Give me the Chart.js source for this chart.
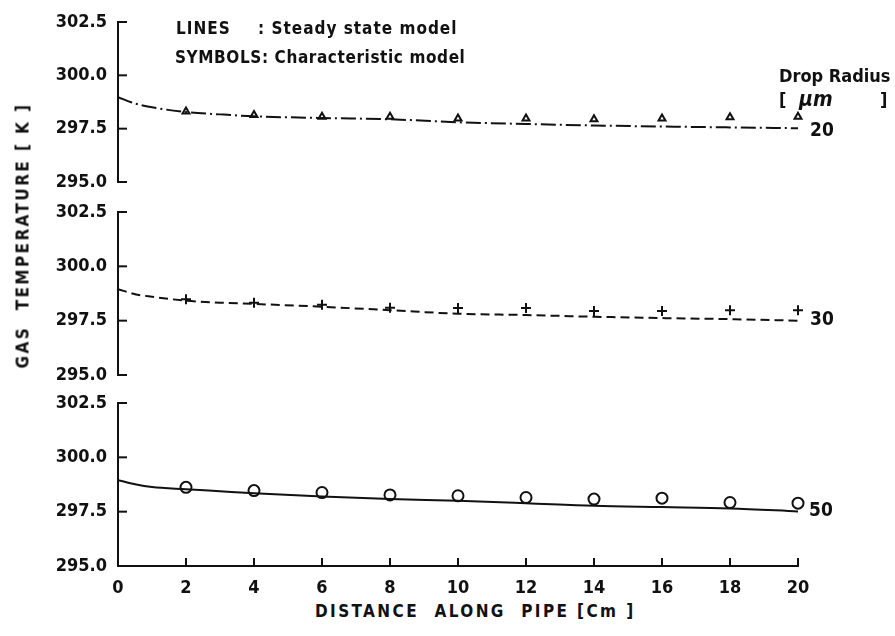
<!DOCTYPE html>
<html>
<head>
<meta charset="utf-8">
<script src="https://cdn.jsdelivr.net/npm/chart.js@4.4.1/dist/chart.umd.min.js"></script>
<style>
body { margin: 0; background: #fff; }
#wrap { position: relative; width: 895px; height: 636px; overflow: hidden;
        font-family: "DejaVu Sans Condensed", "Liberation Sans Narrow", "DejaVu Sans", sans-serif; color: #111; font-weight: bold; }
.box { position: absolute; left: 0; width: 895px; }
.txt { position: absolute; white-space: pre; font-size: 17px; line-height: 1; }
</style>
</head>
<body>
<div id="wrap">
  <div class="box" style="top:10px;height:182px"><canvas id="p20"></canvas></div>
  <div class="box" style="top:200px;height:185px"><canvas id="p30"></canvas></div>
  <div class="box" style="top:391px;height:205px"><canvas id="p50"></canvas></div>

  <div class="txt" style="left:176px;top:20px;letter-spacing:1px">LINES</div>
  <div class="txt" style="left:258px;top:20px;letter-spacing:1px">: Steady state model</div>
  <div class="txt" style="left:175px;top:49px;letter-spacing:0.6px">SYMBOLS: Characteristic model</div>
  <div class="txt" style="left:779px;top:67px;font-size:18px">Drop Radius</div>
  <div class="txt" style="left:779px;top:91px;font-size:18px">[</div>
  <div class="txt" style="left:799px;top:89px;font-size:21px;font-style:italic">μm</div>
  <div class="txt" style="left:880px;top:91px;font-size:18px">]</div>
  <div class="txt" style="left:810px;top:120px;font-size:19px">20</div>
  <div class="txt" style="left:810px;top:309px;font-size:19px">30</div>
  <div class="txt" style="left:809px;top:500px;font-size:19px">50</div>
  <div class="txt" style="left:315px;top:603px;letter-spacing:2.4px">DISTANCE  ALONG  PIPE [Cm ]</div>
  <div class="txt" style="left:-125px;top:227px;width:296px;text-align:center;letter-spacing:2.4px;transform:rotate(-90deg)">GAS  TEMPERATURE [ K ]</div>
</div>
<script>
// steady state model (lines)
const lineX = [0, 0.5, 1, 2, 3, 4, 6, 8, 10, 12, 14, 16, 18, 20];
const line20 = [298.98, 298.68, 298.5, 298.28, 298.17, 298.08, 298.0, 297.94, 297.8, 297.72, 297.65, 297.6, 297.56, 297.52];
const line30 = [298.95, 298.72, 298.6, 298.42, 298.33, 298.27, 298.14, 297.98, 297.82, 297.76, 297.68, 297.62, 297.57, 297.5];
const line50 = [298.95, 298.76, 298.63, 298.53, 298.44, 298.35, 298.2, 298.08, 298.0, 297.89, 297.77, 297.71, 297.65, 297.51];

// characteristic model (symbols)
const symX = [2, 4, 6, 8, 10, 12, 14, 16, 18, 20];
const sym20 = [298.3, 298.14, 298.06, 298.06, 297.98, 297.98, 297.94, 297.98, 298.03, 298.06];
const sym30 = [298.49, 298.33, 298.23, 298.1, 298.08, 298.08, 297.95, 297.95, 297.98, 297.98];
const sym50 = [298.62, 298.47, 298.38, 298.27, 298.23, 298.15, 298.08, 298.12, 297.92, 297.89];

const yTicks = [295.0, 297.5, 300.0, 302.5];
const xTicks = [0, 2, 4, 6, 8, 10, 12, 14, 16, 18, 20];

const FONT = '"DejaVu Sans Condensed", "Liberation Sans Narrow", "DejaVu Sans", sans-serif';
Chart.defaults.font.family = FONT;
Chart.defaults.font.weight = 'bold';
Chart.defaults.color = '#111';

const pts = (xs, ys) => xs.map((x, i) => ({ x: x, y: ys[i] }));

// ticks point into the plot area, like the original plotter axes
const inwardTicks = {
    id: 'inwardTicks',
    afterDraw(chart) {
        const ctx = chart.ctx, a = chart.chartArea;
        ctx.save();
        ctx.strokeStyle = '#111';
        ctx.lineWidth = 2;
        chart.scales.y.ticks.forEach(t => {
            const py = chart.scales.y.getPixelForValue(t.value);
            ctx.beginPath(); ctx.moveTo(a.left, py); ctx.lineTo(a.left + 9, py); ctx.stroke();
        });
        if (chart.options.scales.x.display) {
            chart.scales.x.ticks.forEach(t => {
                if (t.value === 0) return;
                const px = chart.scales.x.getPixelForValue(t.value);
                ctx.beginPath(); ctx.moveTo(px, a.bottom); ctx.lineTo(px, a.bottom - 8); ctx.stroke();
            });
        }
        ctx.restore();
    }
};

function panel(id, lineVals, symVals, dash, symbol, radius, showX) {
    new Chart(document.getElementById(id), {
        type: 'line',
        data: {
            datasets: [{
                data: pts(lineX, lineVals),
                borderColor: '#111',
                borderWidth: 2,
                borderDash: dash,
                pointRadius: 0,
                cubicInterpolationMode: 'monotone',
                fill: false
            }, {
                data: pts(symX, symVals),
                showLine: false,
                pointStyle: symbol,
                pointRadius: radius,
                pointBorderWidth: 2,
                pointBorderColor: '#111',
                pointBackgroundColor: '#fff',
                clip: false
            }]
        },
        options: {
            responsive: true,
            maintainAspectRatio: false,
            animation: false,
            layout: { padding: { top: 12, right: 97, bottom: showX ? 0 : 10, left: 0 } },
            plugins: { legend: { display: false }, tooltip: { enabled: false } },
            scales: {
                x: {
                    type: 'linear', min: 0, max: 20,
                    display: showX,
                    afterBuildTicks: s => { s.ticks = xTicks.map(v => ({ value: v })); },
                    afterFit: s => {
                        s.height = showX ? 30 : 0;
                        s.paddingLeft = 0; s.paddingRight = 0;
                    },
                    grid: { drawOnChartArea: false, drawTicks: false },
                    border: { color: '#111', width: 2 },
                    ticks: { font: { size: 18 }, padding: 12, maxRotation: 0 }
                },
                y: {
                    min: 295, max: 302.5,
                    afterBuildTicks: s => { s.ticks = yTicks.map(v => ({ value: v })); },
                    afterFit: s => {
                        s.width = 118;
                        s.paddingTop = 0; s.paddingBottom = 0;
                    },
                    grid: { drawOnChartArea: false, drawTicks: false },
                    border: { color: '#111', width: 2 },
                    ticks: { font: { size: 18 }, padding: 11, callback: v => v.toFixed(1) }
                }
            }
        },
        plugins: [inwardTicks]
    });
}

panel('p20', line20, sym20, [15, 4, 2, 4], 'triangle', 4, false);
panel('p30', line30, sym30, [9, 5], 'cross', 5, false);
panel('p50', line50, sym50, [], 'circle', 5.5, true);
</script>
</body>
</html>
